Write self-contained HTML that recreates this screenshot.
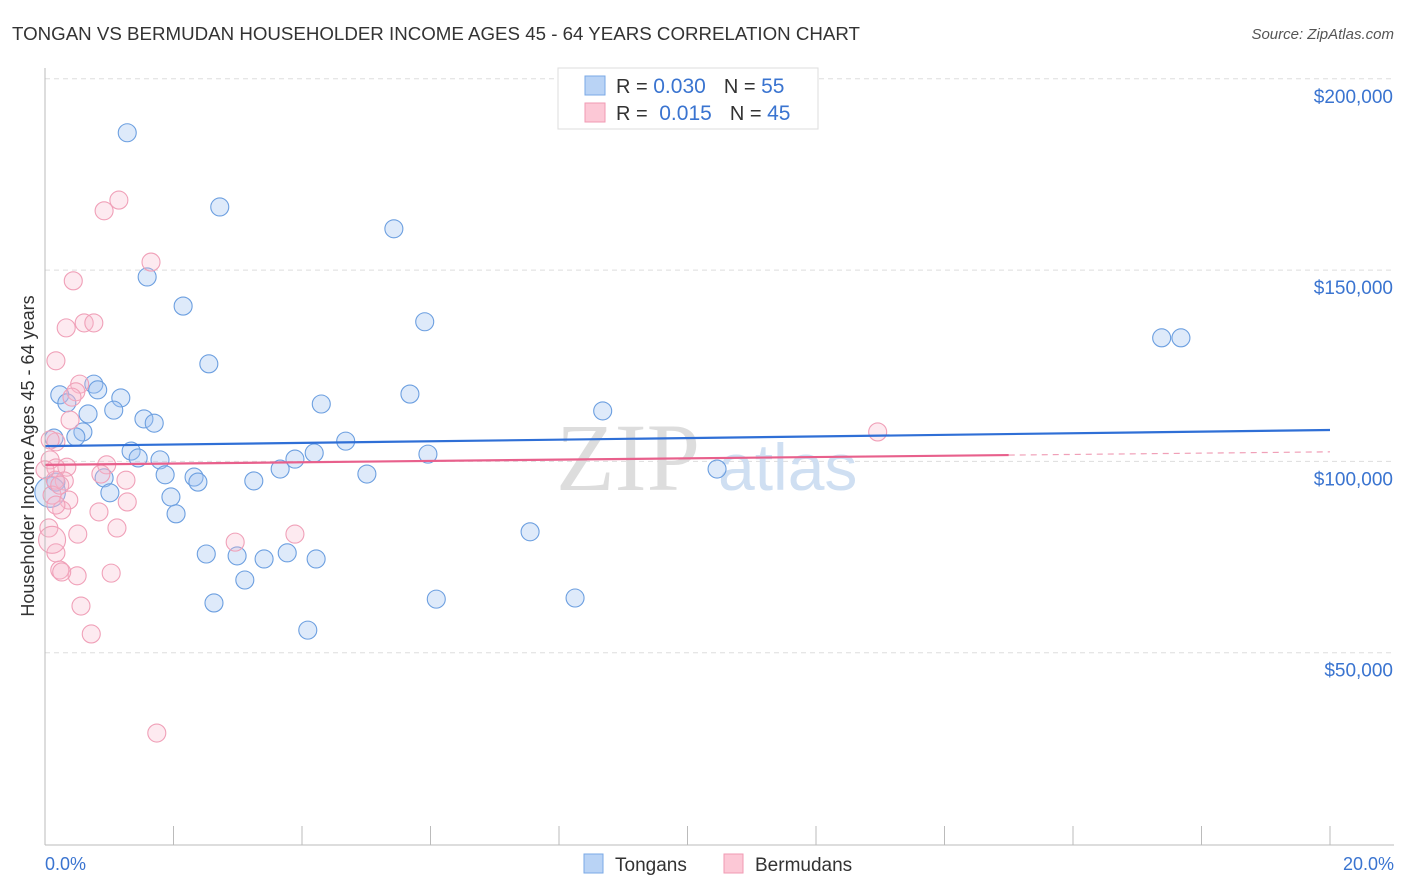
<!DOCTYPE html>
<html><head><meta charset="utf-8"><style>
body{margin:0;background:#fff;font-family:"Liberation Sans",sans-serif;}
svg{display:block}
</style></head><body>
<svg id="chart" width="1406" height="892">
<text x="12" y="40" font-size="18" fill="#333" textLength="848" lengthAdjust="spacingAndGlyphs">TONGAN VS BERMUDAN HOUSEHOLDER INCOME AGES 45 - 64 YEARS CORRELATION CHART</text>
<text x="1394" y="39" font-size="15" fill="#555" font-style="italic" text-anchor="end">Source: ZipAtlas.com</text>
<g id="grid"></g>
<text x="700" y="490" font-size="96" fill="#ddd" font-family="Liberation Serif" text-anchor="end">ZIP</text>
<text x="718" y="490" font-size="66" fill="#cfdff2">atlas</text>
<g id="pts"></g>
<g id="trend"></g>
<line x1="45" y1="68" x2="45" y2="845" stroke="#bbb"/>
<line x1="45" y1="845" x2="1394" y2="845" stroke="#bbb"/>
<g id="ticks"></g>
<text transform="translate(34,456) rotate(-90)" font-size="18" fill="#333" text-anchor="middle">Householder Income Ages 45 - 64 years</text>
<text x="45" y="870" font-size="18" fill="#3a74d0">0.0%</text>
<text x="1394" y="870" font-size="18" fill="#3a74d0" text-anchor="end">20.0%</text>
<g>
<rect x="558" y="68" width="260" height="61" fill="#fff" stroke="#ddd"/>
<rect x="585" y="76" width="20" height="19" fill="#b9d3f5" stroke="#7aa8e6"/>
<rect x="585" y="103" width="20" height="19" fill="#fcc8d6" stroke="#f09ab3"/>
<text x="616" y="93" font-size="20" fill="#333">R = <tspan fill="#3a74d0" font-size="21">0.030</tspan><tspan dx="18">N = </tspan><tspan fill="#3a74d0" font-size="21">55</tspan></text>
<text x="616" y="120" font-size="20" fill="#333">R = <tspan fill="#3a74d0" dx="6" font-size="21">0.015</tspan><tspan dx="18">N = </tspan><tspan fill="#3a74d0" font-size="21">45</tspan></text>
</g>
<g>
<rect x="584" y="854" width="19" height="19" fill="#b9d3f5" stroke="#7aa8e6"/>
<text x="615" y="871" font-size="19" fill="#333">Tongans</text>
<rect x="724" y="854" width="19" height="19" fill="#fcc8d6" stroke="#f09ab3"/>
<text x="755" y="871" font-size="19" fill="#333">Bermudans</text>
</g>
</svg>
<script>
const yTicks=[50000,100000,150000,200000];
const yTickLabels=["$50,000","$100,000","$150,000","$200,000"];
const tonganX=[1.28,2.72,5.43,1.59,2.15,5.91,2.55,17.38,17.68,0.76,0.82,0.23,0.34,1.18,5.68,0.67,1.07,4.30,8.68,1.54,1.70,0.59,0.48,0.14,4.68,1.34,1.45,1.79,4.19,5.96,3.89,10.46,1.87,2.32,2.38,3.66,3.25,5.01,0.92,0.17,1.01,1.96,2.04,2.51,2.99,3.41,3.77,4.22,3.11,7.55,2.63,6.09,8.25,4.09,0.08];
const tonganY=[185.9,166.5,160.8,148.2,140.6,136.5,125.5,132.3,132.3,120.2,118.7,117.4,115.3,116.6,117.6,112.4,113.4,115.0,113.2,111.1,110.0,107.7,106.4,106.1,105.3,102.7,100.9,100.4,102.2,101.9,100.6,98.0,96.5,95.9,94.6,98.0,94.9,96.7,95.7,94.6,91.8,90.7,86.3,75.8,75.3,74.5,76.1,74.5,69.0,81.6,63.0,64.0,64.3,55.9,92.0];
const tonganSize=[1,1,1,1,1,1,1,1,1,1,1,1,1,1,1,1,1,1,1,1,1,1,1,1,1,1,1,1,1,1,1,1,1,1,1,1,1,1,1,1,1,1,1,1,1,1,1,1,1,1,1,1,1,1,1.7];
const bermX=[1.15,0.92,1.65,0.44,0.33,0.61,0.76,0.17,0.54,0.48,0.42,0.39,0.17,0.08,0.34,0.17,0.96,0.87,0.30,1.26,0.16,0.11,0.37,0.26,0.84,1.28,1.12,0.51,3.89,2.96,0.17,0.06,0.23,0.50,1.03,0.26,0.56,0.72,1.74,12.96,0.17,0.08,0.0,0.23,0.11];
const bermY=[168.3,165.5,152.1,147.2,134.9,136.2,136.2,126.3,120.2,118.2,116.8,110.8,105.1,100.4,98.5,98.3,99.1,96.7,94.9,95.1,95.1,91.2,89.9,87.3,86.8,89.4,82.6,81.0,81.0,78.9,76.1,82.6,71.6,70.1,70.8,71.1,62.2,54.9,29.0,107.7,88.6,105.6,97.8,93.8,79.5];
const bermSize=[1,1,1,1,1,1,1,1,1,1,1,1,1,1,1,1,1,1,1,1,1,1,1,1,1,1,1,1,1,1,1,1,1,1,1,1,1,1,1,1,1,1,1,1,1.5];
const tonganTrend=[104.0,108.2];
const bermTrend=[99.1,102.5];
const NS="http://www.w3.org/2000/svg";
const X=v=>45+v*(1285/20);
const Y=v=>844-v*1000*(191.3/50000);
function mk(t,a,p){const e=document.createElementNS(NS,t);for(const k in a)e.setAttribute(k,a[k]);p.appendChild(e);return e;}
const grid=document.getElementById('grid'),ticks=document.getElementById('ticks'),pts=document.getElementById('pts'),tr=document.getElementById('trend');
yTicks.forEach((v,i)=>{
 const l=mk('line',{x1:45,x2:1394,y1:Y(v/1000),y2:Y(v/1000),stroke:'#ddd','stroke-dasharray':'5,4'},grid);
 
 
 const t=mk('text',{x:1393,y:Y(v/1000)+24,'font-size':19,fill:'#3a74d0','text-anchor':'end'},ticks);
 t.textContent=yTickLabels[i];
 
 
});
for(let i=0;i<=10;i++){
 const e=mk('line',{x1:X(i*2),x2:X(i*2),y1:826,y2:845,stroke:'#bbb'},ticks);
 
 
}
tonganX.forEach((x,i)=>{
 const c=mk('circle',{cx:X(x),cy:Y(tonganY[i]),r:9*tonganSize[i],fill:'rgba(160,195,240,0.35)',stroke:'#6c9fe0','stroke-width':1.1},pts);
 
 
});
bermX.forEach((x,i)=>{
 const c=mk('circle',{cx:X(x),cy:Y(bermY[i]),r:9*bermSize[i],fill:'rgba(250,185,205,0.3)',stroke:'#f0a0b8','stroke-width':1.1},pts);
 
 
});
const a=mk('line',{x1:X(0),x2:X(20),y1:Y(tonganTrend[0]),y2:Y(tonganTrend[1]),stroke:'#2f6fd6','stroke-width':2.2},tr);


const f=15/20;
const bm=bermTrend[0]+(bermTrend[1]-bermTrend[0])*f;
const b=mk('line',{x1:X(0),x2:X(15),y1:Y(bermTrend[0]),y2:Y(bm),stroke:'#e8608c','stroke-width':2.2},tr);


const b2=mk('line',{x1:X(15),x2:X(20),y1:Y(bm),y2:Y(bermTrend[1]),stroke:'#f0a0b8','stroke-width':1.2,'stroke-dasharray':'6,5'},tr);


</script>
</body></html>
